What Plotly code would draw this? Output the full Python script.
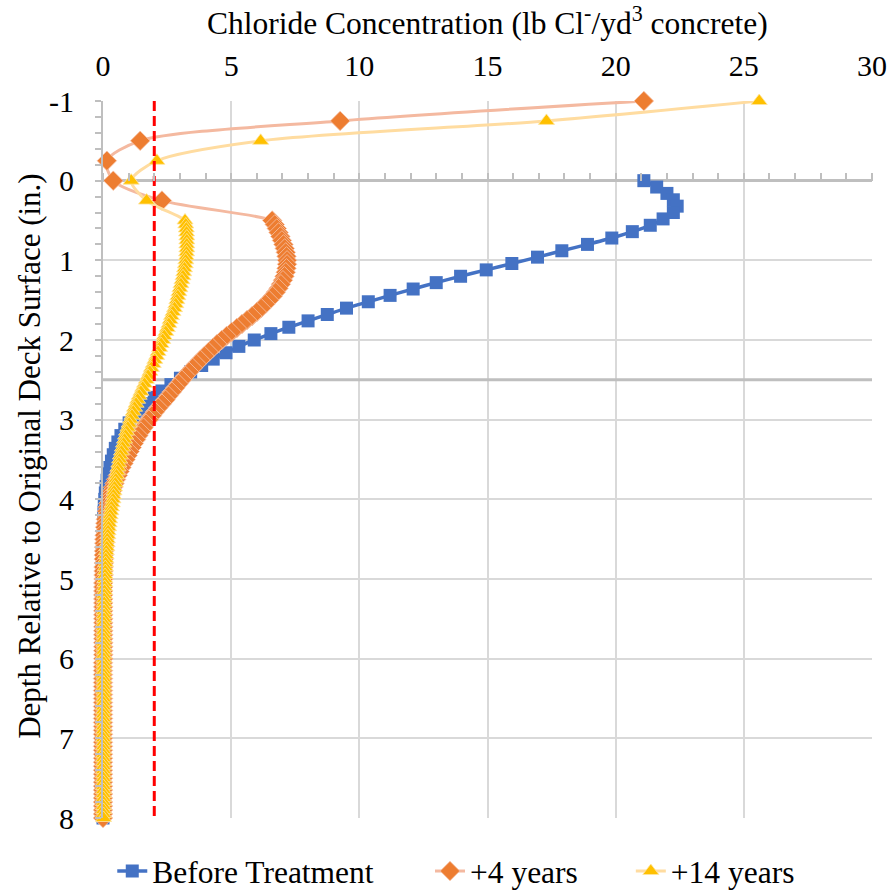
import plotly.graph_objects as go

# ---------------- data ----------------
# Before Treatment: depths every 0.08 in from 0 to 8 in
BT_STEP = 0.08
before_x = [
    21.1, 21.6, 22.0, 22.25, 22.4, 22.25, 21.85, 21.35, 20.65, 19.85,
    18.9, 17.9, 16.95, 15.95, 14.95, 13.95, 13.0, 12.1, 11.2, 10.35,
    9.5, 8.75, 8.0, 7.25, 6.55, 5.9, 5.3, 4.8, 4.3, 3.85,
    3.42, 3.02, 2.65, 2.3, 2.0, 1.72, 1.45, 1.22, 1.02, 0.85,
    0.7, 0.58, 0.48, 0.4, 0.33, 0.27, 0.21, 0.16, 0.12, 0.09,
    0.07, 0.05, 0.04, 0.03, 0.02, 0.02,
    0.01, 0.01, 0.01, 0.01, 0.01, 0.01, 0.01, 0.01, 0.01, 0.01, 0.01, 0.01, 0.01,
    0.0, 0.0, 0.0, 0.0, 0.0, 0.0, 0.0, 0.0, 0.0, 0.0, 0.0, 0.0, 0.0, 0.0, 0.0, 0.0,
    0.0, 0.0, 0.0, 0.0, 0.0, 0.0, 0.0, 0.0, 0.0, 0.0, 0.0, 0.0, 0.0, 0.0, 0.0, 0.0,
]
before_depth = [round(i * BT_STEP, 2) for i in range(len(before_x))]

# overlay + original concrete (sparse overlay points, then dense every 0.05 in from 0.5 in)
overlay_depth = [-1.0, -0.75, -0.5, -0.25, 0.0, 0.25]
DENSE_START = 0.5
DENSE_STEP = 0.05

y4_overlay = [21.1, 9.25, 1.45, 0.15, 0.4, 2.3]
y4_dense = [
    6.6, 6.7, 6.78, 6.85, 6.92, 6.98, 7.04, 7.09, 7.13, 7.16,
    7.18, 7.18, 7.16, 7.13, 7.08, 7.02, 6.94, 6.85, 6.74, 6.62,
    6.48, 6.33, 6.17, 6.0, 5.82, 5.62, 5.42, 5.22, 5.02, 4.82,
    4.63, 4.45, 4.28, 4.12, 3.96, 3.8, 3.65, 3.5, 3.36, 3.22,
    3.08, 2.95, 2.82, 2.69, 2.56, 2.44, 2.3, 2.16, 2.03, 1.91,
    1.79, 1.68, 1.58, 1.48, 1.38, 1.29, 1.2, 1.12, 1.04, 0.96,
    0.88, 0.8, 0.72, 0.65, 0.58, 0.51, 0.45, 0.39, 0.34, 0.29,
    0.25, 0.21, 0.18, 0.15, 0.13, 0.11, 0.09, 0.08, 0.07, 0.06,
    0.05, 0.05, 0.04, 0.04, 0.03, 0.03, 0.03, 0.02, 0.02, 0.02,
    0.02,
    0.01, 0.01, 0.01, 0.01, 0.01, 0.01, 0.01, 0.01, 0.01, 0.01,
    0.01, 0.01, 0.01, 0.01, 0.01, 0.01, 0.01, 0.01, 0.01, 0.01,
    0.0, 0.0, 0.0, 0.0, 0.0, 0.0, 0.0, 0.0, 0.0, 0.0,
    0.0, 0.0, 0.0, 0.0, 0.0, 0.0, 0.0, 0.0, 0.0, 0.0,
    0.0, 0.0, 0.0, 0.0, 0.0, 0.0, 0.0, 0.0, 0.0, 0.0,
    0.0, 0.0, 0.0, 0.0, 0.0, 0.0, 0.0, 0.0, 0.0, 0.0,
]

y14_overlay = [25.6, 17.3, 6.15, 2.1, 1.1, 1.7]
y14_dense = [
    3.2, 3.23, 3.25, 3.26, 3.27, 3.27, 3.27, 3.27, 3.26, 3.25,
    3.23, 3.21, 3.18, 3.15, 3.12, 3.08, 3.04, 3.0, 2.96, 2.92,
    2.88, 2.84, 2.79, 2.73, 2.67, 2.62, 2.57, 2.51, 2.45, 2.39,
    2.33, 2.27, 2.21, 2.15, 2.09, 2.02, 1.96, 1.89, 1.83, 1.76,
    1.69, 1.62, 1.55, 1.48, 1.41, 1.35, 1.29, 1.23, 1.18, 1.13,
    1.07, 1.02, 0.97, 0.92, 0.88, 0.84, 0.8, 0.76, 0.72, 0.68,
    0.65, 0.62, 0.59, 0.56, 0.53, 0.5, 0.48, 0.45, 0.43, 0.41,
    0.39, 0.36, 0.33, 0.31, 0.28, 0.26, 0.24, 0.22, 0.2, 0.19,
    0.17, 0.16, 0.15, 0.13, 0.12, 0.11, 0.1, 0.09, 0.09, 0.08,
    0.07,
    0.07, 0.06, 0.06, 0.05, 0.05, 0.05, 0.04, 0.04, 0.04, 0.04,
    0.03, 0.03, 0.03, 0.03, 0.03, 0.03, 0.03, 0.03, 0.03, 0.03,
    0.03, 0.03, 0.03, 0.03, 0.03, 0.03, 0.03, 0.03, 0.03, 0.03,
    0.02, 0.02, 0.02, 0.02, 0.02, 0.02, 0.02, 0.02, 0.02, 0.02,
    0.02, 0.02, 0.02, 0.02, 0.02, 0.02, 0.02, 0.02, 0.02, 0.02,
    0.02, 0.02, 0.02, 0.02, 0.02, 0.02, 0.02, 0.02, 0.02, 0.02,
]
dense_depth = [round(DENSE_START + i * DENSE_STEP, 2) for i in range(len(y4_dense))]

y4_x = y4_overlay + y4_dense
y14_x = y14_overlay + y14_dense
later_depth = overlay_depth + dense_depth

series_names = ["Before Treatment", "+4 years", "+14 years"]
y_tick_vals = [-1, 0, 1, 2, 3, 4, 5, 6, 7, 8]
y_tick_text = ["-1", "0", "1", "2", "3", "4", "5", "6", "7", "8"]
x_title = "Chloride Concentration (lb Cl<sup>-</sup>/yd<sup>3</sup> concrete)"
y_title = "Depth Relative to Original Deck Surface (in.)"

THRESHOLD = 2.0          # chloride threshold (dashed red)
OVERLAY_BASE = 2.5       # depth of grey reference line
X_RANGE = [0, 30]
Y_RANGE = [8, -1]

FONT = "Liberation Serif, Times New Roman, serif"
BLACK = "#000000"

fig = go.Figure()

fig.add_trace(go.Scatter(
    x=before_x, y=before_depth, name=series_names[0], mode="lines+markers",
    line=dict(color="#4472C4", width=3.5, shape="spline", smoothing=0.6),
    marker=dict(symbol="square", size=13, color="#4472C4"),
    cliponaxis=False, legend="legend",
))
fig.add_trace(go.Scatter(
    x=y4_x, y=later_depth, name=series_names[1], mode="lines+markers",
    line=dict(color="#F4B9A0", width=3, shape="spline", smoothing=0.8),
    marker=dict(symbol="diamond", size=15, color="#ED7D31",
                line=dict(color="#F6C3A8", width=0.8)),
    cliponaxis=False, legend="legend2",
))
fig.add_trace(go.Scatter(
    x=y14_x, y=later_depth, name=series_names[2], mode="lines+markers",
    line=dict(color="#FFDCA0", width=3, shape="spline", smoothing=0.8),
    marker=dict(symbol="triangle-up", size=14, color="#FFC000",
                line=dict(color="#FFE5A0", width=0.8)),
    cliponaxis=False, legend="legend3",
))
fig.add_trace(go.Scatter(
    x=[THRESHOLD, THRESHOLD], y=[Y_RANGE[1], Y_RANGE[0]], xaxis="x2",
    mode="lines", line=dict(color="#FF0000", width=3, dash="10px,5px"),
    showlegend=False, hoverinfo="skip",
))

fig.add_shape(type="line", xref="x", yref="y", x0=X_RANGE[0], x1=X_RANGE[1],
              y0=OVERLAY_BASE, y1=OVERLAY_BASE, layer="between",
              line=dict(color="#BFBFBF", width=3))

# axis titles as annotations for exact placement
fig.add_annotation(text=x_title, xref="paper", yref="paper", x=0.5, y=1.112,
                   xanchor="center", yanchor="middle", showarrow=False,
                   font=dict(family=FONT, size=31.5, color=BLACK))
fig.add_annotation(text=y_title, xref="paper", yref="paper", x=-0.095, y=0.505,
                   xanchor="center", yanchor="middle", showarrow=False, textangle=-90,
                   font=dict(family=FONT, size=31, color=BLACK))

legend_font = dict(family=FONT, size=31.5, color=BLACK)
legend_common = dict(orientation="h", xref="container", yref="container",
                     y=0.0213, yanchor="middle", xanchor="left",
                     font=legend_font, bgcolor="rgba(0,0,0,0)")

fig.update_layout(
    width=891, height=890,
    margin=dict(l=103, r=19, t=101, b=72, autoexpand=False),
    paper_bgcolor="white", plot_bgcolor="white",
    font=dict(family=FONT, color=BLACK, size=30),
    showlegend=True,
    legend=dict(x=0.126, **legend_common),
    legend2=dict(x=0.4826, **legend_common),
    legend3=dict(x=0.708, **legend_common),
    xaxis=dict(
        range=X_RANGE, side="top", dtick=5, tick0=0,
        showgrid=True, gridcolor="#D9D9D9", gridwidth=2,
        showline=False, zeroline=False, ticks="",
        tickfont=dict(family=FONT, size=30, color=BLACK),
        ticklabelstandoff=18,
    ),
    xaxis2=dict(
        range=X_RANGE, overlaying="x", matches="x", anchor="free", position=8 / 9,
        side="top", ticks="outside", ticklen=8, tickwidth=1.5, tickcolor="#BFBFBF",
        dtick=1, tick0=0, showticklabels=False, showgrid=False, zeroline=False,
        showline=False,
    ),
    yaxis=dict(
        range=Y_RANGE, tickmode="array", tickvals=y_tick_vals, ticktext=y_tick_text,
        showgrid=True, gridcolor="#D9D9D9", gridwidth=2,
        showline=True, linecolor="#BFBFBF", linewidth=2,
        zeroline=True, zerolinecolor="#BFBFBF", zerolinewidth=3,
        ticks="outside", ticklen=6, tickwidth=1.5, tickcolor="#BFBFBF",
        minor=dict(dtick=0.2, tick0=0, ticks="outside", ticklen=6, tickwidth=1.5,
                   tickcolor="#BFBFBF", showgrid=False),
        tickfont=dict(family=FONT, size=30, color=BLACK),
        ticklabelstandoff=15,
    ),
)

fig.write_html("out.html")
